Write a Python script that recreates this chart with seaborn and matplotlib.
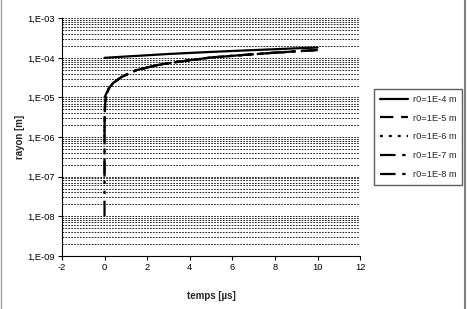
import numpy as np
import pandas as pd
import matplotlib
matplotlib.use("Agg")
import matplotlib.pyplot as plt
import seaborn as sns
from matplotlib.ticker import FixedLocator, FuncFormatter, LogLocator, NullFormatter
from matplotlib.lines import Line2D

# ----------------------------
# DATA
# ----------------------------

labels = ["r0=1E-4 m", "r0=1E-5 m", "r0=1E-6 m", "r0=1E-7 m", "r0=1E-8 m"]

# r0 = 1E-4
t_4 = [0, 1, 2, 3, 4, 5, 6, 7, 8, 9, 10]
r_4 = [1.0e-4, 1.08e-4, 1.16e-4, 1.25e-4, 1.33e-4, 1.41e-4, 1.49e-4,
       1.57e-4, 1.65e-4, 1.74e-4, 1.82e-4]

# common tail that the smaller radii end up on
t_tail = [0.2, 0.4, 0.8, 1.5, 2.5, 3.5, 5, 6.5, 8, 10]
r_tail = [1.7e-5, 2.3e-5, 3.3e-5, 4.9e-5, 6.6e-5, 8.0e-5, 1.02e-4,
          1.18e-4, 1.35e-4, 1.58e-4]

# r0 = 1E-5
t_5 = [0, 0.1] + t_tail
r_5 = [1.0e-5, 1.3e-5] + r_tail

# r0 = 1E-6
t_6 = [0, 0.01, 0.03, 0.06, 0.1] + t_tail
r_6 = [1.0e-6, 4.0e-6, 7.0e-6, 9.5e-6, 1.2e-5] + r_tail

# r0 = 1E-7
t_7 = [0, 0.001, 0.005, 0.02, 0.05, 0.1] + t_tail
r_7 = [1.0e-7, 1.3e-6, 3.0e-6, 6.0e-6, 9.0e-6, 1.2e-5] + r_tail

# r0 = 1E-8
t_8 = [0, 0.0005, 0.002, 0.01, 0.04, 0.1] + t_tail
r_8 = [1.0e-8, 9.0e-7, 2.0e-6, 4.0e-6, 8.0e-6, 1.2e-5] + r_tail

x_ticks = [-2, 0, 2, 4, 6, 8, 10, 12]
y_ticks = [1e-9, 1e-8, 1e-7, 1e-6, 1e-5, 1e-4, 1e-3]

series = [(labels[0], t_4, r_4), (labels[1], t_5, r_5), (labels[2], t_6, r_6),
          (labels[3], t_7, r_7), (labels[4], t_8, r_8)]

frames = []
for lab, t, r in series:
    frames.append(pd.DataFrame({"temps": t, "rayon": r, "serie": lab}))
df = pd.concat(frames, ignore_index=True)

dashes = {
    labels[0]: "",
    labels[1]: (6, 3.5),
    labels[2]: (1.3, 2.7),
    labels[3]: (7, 3, 1.5, 3),
    labels[4]: (7, 3, 1.5, 3, 1.5, 3),
}

# ----------------------------
# PLOT
# ----------------------------

sns.set_style("white")
plt.rcParams['font.family'] = ['Liberation Sans', 'DejaVu Sans']
plt.rcParams['axes.unicode_minus'] = False

fig = plt.figure(figsize=(4.69, 3.09), dpi=100)
ax = fig.add_axes([0.132, 0.172, 0.636, 0.769])

sns.lineplot(data=df, x="temps", y="rayon", hue="serie", style="serie",
             palette=["black"] * 5, dashes=dashes, linewidth=1.6,
             estimator=None, ax=ax)

ax.set_yscale("log")
ax.set_ylim(1e-9, 1e-3)
ax.set_xlim(-2, 12)
ax.set_xticks(x_ticks)
ax.yaxis.set_major_locator(FixedLocator(y_ticks))
ax.yaxis.set_major_formatter(FuncFormatter(
    lambda v, p: "1,E-%02d" % int(round(-np.log10(v)))))
ax.yaxis.set_minor_locator(LogLocator(base=10, subs=np.arange(2, 10)))
ax.yaxis.set_minor_formatter(NullFormatter())

ax.grid(True, axis="y", which="both", color="black", linewidth=0.6,
        linestyle=(0, (2, 1.5)))
ax.grid(False, axis="x")
ax.set_axisbelow(True)

for s in ["top", "right"]:
    ax.spines[s].set_visible(False)
for s in ["left", "bottom"]:
    ax.spines[s].set_color("black")
    ax.spines[s].set_linewidth(0.8)

ax.tick_params(axis="both", which="major", direction="out", length=3,
               width=0.8, color="black", labelsize=6.7, labelcolor="black",
               left=True, bottom=True, pad=2)
ax.tick_params(axis="y", which="minor", length=0)

ax.set_xlabel("temps [µs]", fontsize=7, fontweight="bold")
ax.set_ylabel("rayon [m]", fontsize=7, fontweight="bold")
ax.xaxis.set_label_coords(0.502, -0.15)
ax.yaxis.set_label_coords(-0.125, 0.5)

handles, labs = ax.get_legend_handles_labels()
for h in handles:
    h.set_linewidth(1.6)
    h.set_color("black")
ax.legend(handles, labs, loc="center right", bbox_to_anchor=(0.9845, 0.557),
          bbox_transform=fig.transFigure, fontsize=6.7, frameon=True,
          fancybox=False, edgecolor="#606060", framealpha=1,
          handlelength=3.0, handletextpad=0.5, labelspacing=1.05,
          borderpad=0.6, borderaxespad=0)

# grey frame edges like the original screenshot
fig.add_artist(Line2D([0.003, 0.003], [0, 1], transform=fig.transFigure,
                      color="#a0a0a0", linewidth=1))
fig.add_artist(Line2D([0.9915, 0.9915], [0, 1], transform=fig.transFigure,
                      color="#808080", linewidth=1.5))

fig.savefig("out.png", dpi=100)
